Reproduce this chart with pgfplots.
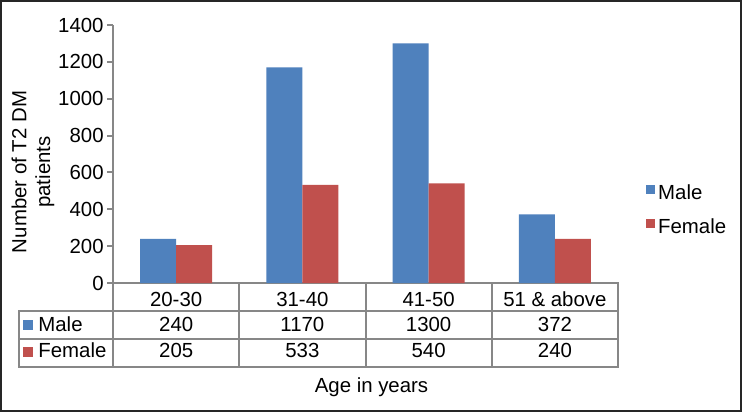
\documentclass[border=0pt]{standalone}
\usepackage{pgfplots}
\pgfplotsset{compat=1.18}
\usepackage{fontspec}
\setmainfont{Liberation Sans}
\definecolor{mblue}{HTML}{4F81BD}
\definecolor{fred}{HTML}{C0504D}
\definecolor{axgray}{HTML}{878787}
\definecolor{frame}{HTML}{262626}
\begin{document}
\fontsize{10.2}{11.8}\selectfont
\begin{tikzpicture}
\useasboundingbox (0,0) rectangle (371pt,206pt);
\fill[white] (0,0) rectangle (371pt,206pt);
\draw[line width=1pt, frame] (0.5pt,0.5pt) rectangle (370.5pt,205.5pt);
\begin{axis}[
  at={(56.5pt,64.5pt)}, anchor=south west,
  scale only axis, width=252.5pt, height=129pt,
  xmin=-0.5, xmax=3.5, ymin=0, ymax=1400,
  ybar=0pt, bar width=18pt,
  axis lines*=left,
  axis line style={axgray, line width=1pt},
  ytick={0,200,...,1400},
  ytick align=outside, major tick length=3pt,
  ytick style={axgray, line width=1pt},
  xtick={0,1,2,3},
  xticklabels={20-30,31-40,41-50,51 \& above},
  xtick style={draw=none},
  xticklabel style={anchor=center, inner sep=0pt, yshift=-5pt},
  yticklabel style={anchor=east, inner sep=0pt, xshift=-1.5pt},
  /pgf/number format/assume math mode=true,
  /pgf/number format/1000 sep={},
  tick label style={font=\fontsize{10.2}{12}\selectfont, text=black},
  legend style={draw=none, fill=none, inner sep=0pt,
    at={(1.055,0.279)}, anchor=west, row sep=5pt,
    font=\fontsize{10.2}{12}\selectfont,
    nodes={inner sep=1.5pt}},
  legend cell align=left,
  legend image code/.code={\fill[#1] (0pt,0pt) rectangle (4.5pt,4.5pt);},
  clip=false,
]
\addplot[fill=mblue, draw=none] coordinates {(0,240) (1,1170) (2,1300) (3,372)};
\addlegendentry{Male}
\addplot[fill=fred, draw=none] coordinates {(0,205) (1,533) (2,540) (3,240)};
\addlegendentry{Female}
\end{axis}
% data table
\begin{scope}[axgray, line width=1pt, line cap=rect]
\draw (56.5pt,64.5pt) -- (56.5pt,22.5pt);
\foreach \x in {119.6,182.75,245.9,309} \draw (\x pt,64.5pt) -- (\x pt,22.5pt);
\draw (9.5pt,50.5pt) -- (309pt,50.5pt);
\draw (9.5pt,36.5pt) -- (309pt,36.5pt);
\draw (9.5pt,22.5pt) -- (309pt,22.5pt);
\draw (9.5pt,50.5pt) -- (9.5pt,22.5pt);
\end{scope}
\fill[mblue] (11.5pt,41pt) rectangle (16.5pt,46pt);
\fill[fred] (11.5pt,27.5pt) rectangle (16.5pt,32.5pt);
\node[anchor=base west, inner sep=0pt] at (19pt,40.2pt) {Male};
\node[anchor=base west, inner sep=0pt] at (19pt,27.3pt) {Female};
\foreach \x/\m/\f in {88.1/240/205, 151.2/1170/533, 214.3/1300/540, 277.5/372/240}{
  \node[anchor=base, inner sep=0pt] at (\x pt,40.2pt) {\m};
  \node[anchor=base, inner sep=0pt] at (\x pt,27.3pt) {\f};
}
\node[anchor=base, inner sep=0pt] at (185.75pt,10pt) {Age in years};
\node[rotate=90, align=center, inner sep=0pt] at (16.5pt,120pt) {Number of T2 DM\\patients};
\end{tikzpicture}
\end{document}
